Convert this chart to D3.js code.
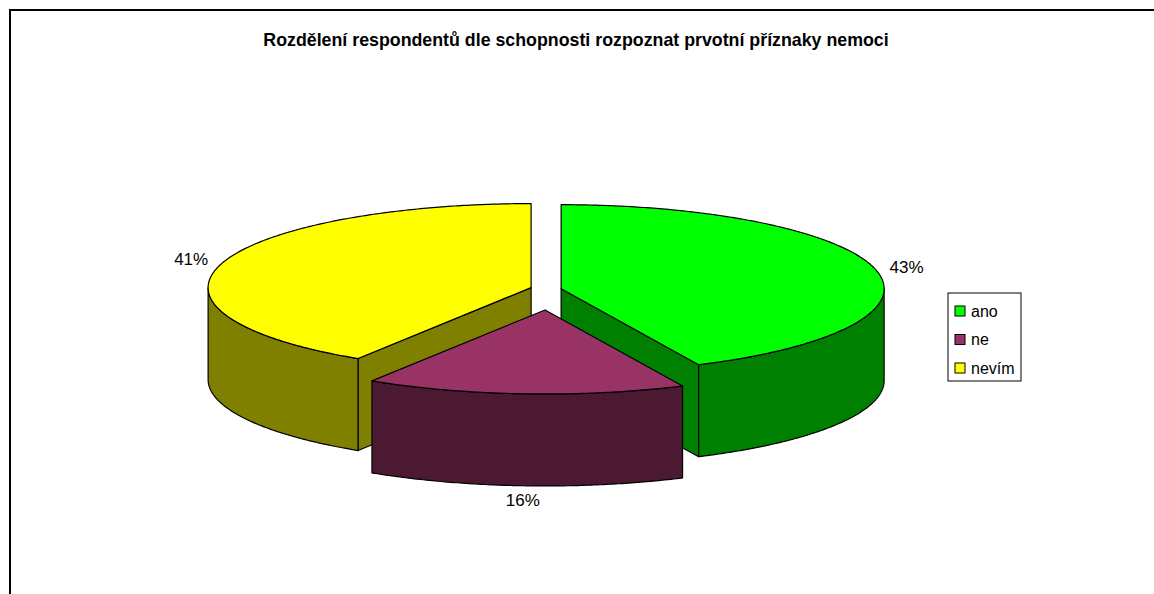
<!DOCTYPE html>
<html>
<head>
<meta charset="utf-8">
<script src="https://cdn.jsdelivr.net/npm/d3@7"></script>
<style>
  body { margin: 0; background: #fff; }
  text { font-family: Arial, 'Liberation Sans', sans-serif; fill: #000; }
</style>
</head>
<body>
<div id="chart"></div>
<script>
const title = 'Rozdělení respondentů dle schopnosti rozpoznat prvotní příznaky nemoci'
const categories = ['ano', 'ne', 'nevím']
const shares = [43, 16, 41]
const topColors = ['#00ff00', '#993366', '#ffff00']
const sideColors = ['#008000', '#4c1933', '#808000']

const width = 1154
const height = 594

const svg = d3
  .select('#chart')
  .append('svg')
  .attr('width', width)
  .attr('height', height)

// chart frame (runs off the right and bottom of the picture)
svg
  .append('rect')
  .attr('x', 10)
  .attr('y', 10)
  .attr('width', 1300)
  .attr('height', 800)
  .attr('fill', 'none')
  .attr('stroke', '#000')
  .attr('stroke-width', 2)

svg
  .append('text')
  .attr('x', 576)
  .attr('y', 46)
  .attr('text-anchor', 'middle')
  .attr('font-weight', 'bold')
  .attr('font-size', 17.8)
  .text(title)

// 3d pie geometry
const cx = 546
const cy = 292.5
const rx = 323
const ry = 84
const depth = 92
const explodeX = 15.5
const explodeY = 17.5

const colorTop = d3.scaleOrdinal().domain(categories).range(topColors)
const colorSide = d3.scaleOrdinal().domain(categories).range(sideColors)

const pie = d3
  .pie()
  .sort(null)
  .value(d => d.value)

const slices = pie(categories.map((c, i) => ({ name: c, value: shares[i] })))

slices.forEach(d => {
  d.mid = (d.startAngle + d.endAngle) / 2
  d.cx = cx + explodeX * Math.sin(d.mid)
  d.cy = cy - explodeY * Math.cos(d.mid)
})

function pt(d, a, z) {
  return [d.cx + rx * Math.sin(a), d.cy - ry * Math.cos(a) + z]
}

function arcPoints(d, a0, a1, z) {
  const n = Math.max(2, Math.ceil(Math.abs(a1 - a0) / 0.01))
  return d3.range(n + 1).map(i => pt(d, a0 + (a1 - a0) * i / n, z))
}

const line = d3.line()

// draw back slices first
const order = slices.slice().sort((a, b) => -Math.cos(a.mid) - -Math.cos(b.mid))

order.forEach(d => {
  const g = svg.append('g')
  const c = [d.cx, d.cy]
  const cd = [d.cx, d.cy + depth]

  // cut faces
  const faces = []
  if (Math.sin(d.startAngle) < -1e-6) faces.push(d.startAngle)
  if (Math.sin(d.endAngle) > 1e-6) faces.push(d.endAngle)
  faces.forEach(a => {
    const p = pt(d, a, 0)
    const pd = pt(d, a, depth)
    g.append('path')
      .attr('d', line([c, p, pd, cd]) + 'Z')
      .attr('fill', colorSide(d.data.name))
      .attr('stroke', '#000')
      .attr('stroke-width', 1.2)
      .attr('stroke-linejoin', 'round')
  })

  // outer wall, front half only
  const w0 = Math.max(d.startAngle, Math.PI / 2)
  const w1 = Math.min(d.endAngle, Math.PI * 1.5)
  if (w1 > w0) {
    const top = arcPoints(d, w0, w1, 0)
    const bottom = arcPoints(d, w1, w0, depth)
    g.append('path')
      .attr('d', line(top.concat(bottom)) + 'Z')
      .attr('fill', colorSide(d.data.name))
      .attr('stroke', '#000')
      .attr('stroke-width', 1.2)
      .attr('stroke-linejoin', 'round')
  }

  // top face
  const topPts = [c].concat(arcPoints(d, d.startAngle, d.endAngle, 0))
  g.append('path')
    .attr('d', line(topPts) + 'Z')
    .attr('fill', colorTop(d.data.name))
    .attr('stroke', '#000')
    .attr('stroke-width', 1.2)
    .attr('stroke-linejoin', 'round')
})

// percentage labels
slices.forEach(d => {
  const front = Math.cos(d.mid) < 0 ? depth : 0
  svg
    .append('text')
    .attr('x', d.cx + (rx + 31) * Math.sin(d.mid))
    .attr('y', d.cy - (ry + 15) * Math.cos(d.mid) + front)
    .attr('text-anchor', 'middle')
    .attr('dominant-baseline', 'central')
    .attr('font-size', 17)
    .text(d.data.value + '%')
})

// legend
const legend = svg.append('g').attr('transform', 'translate(948,293)')

legend
  .append('rect')
  .attr('width', 73)
  .attr('height', 88)
  .attr('fill', '#fff')
  .attr('stroke', '#000')
  .attr('stroke-width', 1)

const legendY = d3
  .scalePoint()
  .domain(categories)
  .range([18, 75])

categories.forEach(c => {
  legend
    .append('rect')
    .attr('x', 7)
    .attr('y', legendY(c) - 5)
    .attr('width', 10)
    .attr('height', 10)
    .attr('fill', colorTop(c))
    .attr('stroke', '#000')
    .attr('stroke-width', 1)

  legend
    .append('text')
    .attr('x', 23)
    .attr('y', legendY(c))
    .attr('dominant-baseline', 'central')
    .attr('font-size', 16)
    .text(c)
})
</script>
</body>
</html>
